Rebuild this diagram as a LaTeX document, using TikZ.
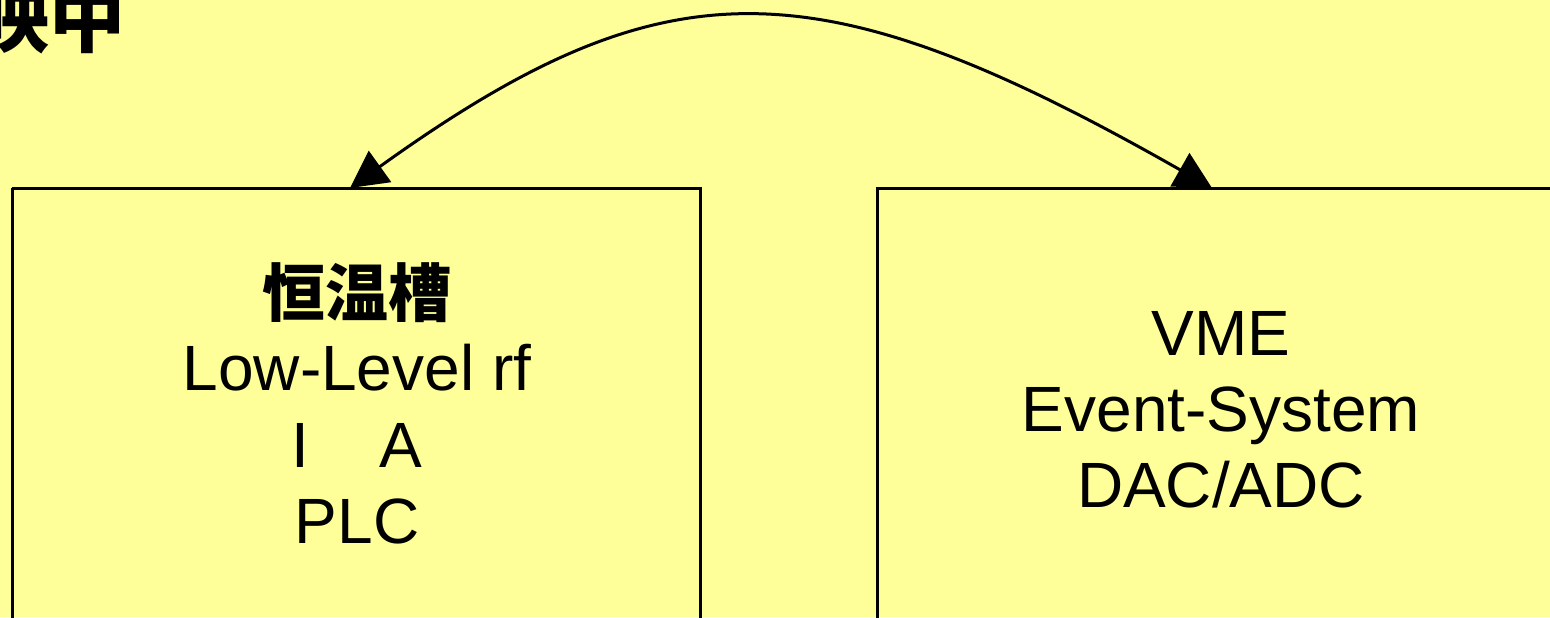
\documentclass[tikz,border=0pt]{standalone}
\usepackage{fontspec}
\setmainfont{Liberation Sans}
\newfontfamily\cjk{Noto Sans CJK JP}
\usetikzlibrary{arrows.meta}
\definecolor{bg}{RGB}{255,255,153}
\tikzset{
  box/.style={draw=black, line width=1.5pt, fill=none},
  lbl/.style={font=\fontsize{32}{38}\selectfont, anchor=base, inner sep=0pt},
  cjklbl/.style={font=\cjk\bfseries\fontsize{31.5}{38}\selectfont, anchor=base, inner sep=0pt},
  link/.style={line width=1.5pt, {Triangle[length=18.5pt,width=19pt]}-{Triangle[length=18.5pt,width=19pt]}}
}
\begin{document}
\begin{tikzpicture}[x=0.5pt,y=-0.5pt]
\fill[bg] (0,0) rectangle (1550,617);
\useasboundingbox (0,0) rectangle (1550,617);
% boxes
\draw[box] (12,188) -- (12,640) (12,188) -- (700,188) -- (700,640);
\draw[box] (877,640) -- (877,188) -- (1570,188);
\coordinate (lbox) at (350,188);
\coordinate (rbox) at (1212,188);
% heading cut at top-left
\node[font=\cjk\bfseries\fontsize{38}{40}\selectfont, anchor=base east, inner sep=0pt] (head) at (126,46) {映中};
% left box text
\node[cjklbl] (t1) at (357,316) {恒温槽};
\node[lbl] (t2) at (357,390) {Low-Level rf};
\node[lbl] (t3) at (357,467) {I\hspace{1.1em}A};
\node[lbl] (t4) at (357,543) {PLC};
% right box text
\node[lbl] (r1) at (1221,355) {VME};
\node[lbl] (r2) at (1221,431) {Event-System};
\node[lbl] (r3) at (1221,507) {DAC/ADC};
% connector
\draw[link] (lbox) .. controls (665,-38) and (815,-38) .. (rbox);
\end{tikzpicture}
\end{document}
